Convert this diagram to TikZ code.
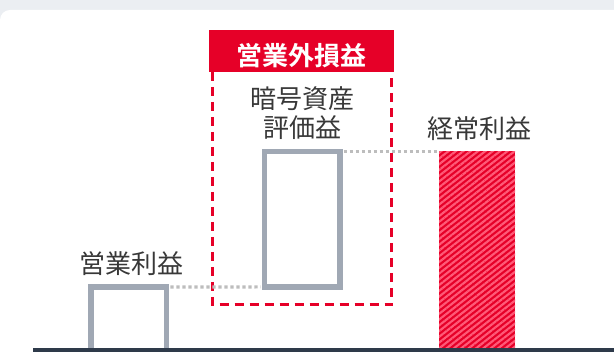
\documentclass[tikz,border=0pt]{standalone}
\usepackage{fontspec}
\newfontfamily\cjk{Noto Sans CJK JP}[BoldFont={Noto Sans CJK JP Bold}]
\usepackage{tikz}
\usetikzlibrary{patterns.meta}

\definecolor{bggray}{HTML}{EBEEF2}
\definecolor{lossred}{HTML}{E60028}
\definecolor{hatchpink}{HTML}{FF5A78}
\definecolor{bargray}{HTML}{A0A8B4}
\definecolor{dotgray}{HTML}{BDBDBD}
\definecolor{axisdark}{HTML}{2E3A4A}
\definecolor{labelgray}{HTML}{383838}

\tikzset{
  lbl/.style={inner sep=0pt, text=labelgray, align=center,
    font=\cjk\fontsize{19.5}{21.75}\selectfont},
  hdrlbl/.style={lbl, text=white, font=\cjk\bfseries\fontsize{19.5}{21.75}\selectfont},
  barbox/.style={draw=bargray, line width=4.1pt, inner sep=0pt, outer sep=0pt,
    anchor=north west, minimum width=56.6pt},
  guide/.style={draw=dotgray, line width=2.3pt, dash pattern=on 2.3pt off 2.2pt},
  lossframe/.style={draw=lossred, line width=2.25pt, dash pattern=on 6.75pt off 4.5pt},
}

\begin{document}
\begin{tikzpicture}[x=0.75pt,y=0.75pt,yscale=-1,xscale=1]
\useasboundingbox (0,0) rectangle (614,352);

% Background
\fill[bggray] (0,0) rectangle (614,352);
\fill[white, rounded corners=7.5pt] (0,10) rectangle (660,400);

% Header
\node[fill=lossred, inner sep=0pt, outer sep=0pt, anchor=north west,
  minimum width=139pt, minimum height=31.1pt] (hdr) at (208.7,30.5) {};
\node[hdrlbl] (hdrtext) at ([yshift=3.3pt]hdr.center) {営業外損益};
% Dashed frame
\draw[lossframe] (212.5,72) |- (391.5,305) -- (391.5,72);

% Bars
\node[barbox, minimum height=48pt] (opbox) at (91,287) {};
\node[barbox, minimum height=101.6pt] (valbox) at (264.5,151.5) {};
\node[anchor=north west, inner sep=0pt, outer sep=0pt, minimum width=57pt,
  minimum height=147.4pt, preaction={fill=lossred},
  pattern={Lines[angle=38, distance=3.4pt, line width=1.6pt]},
  pattern color=hatchpink] (ordinary) at (439,151.5) {};

% Axis
\fill[axisdark] (33,348) rectangle (614,352);

% Text Node
\node[lbl] (oplabel) at (131.5,264) {営業利益};
% Text Node
\node[lbl] (vallabel) at (302,113.5) {暗号資産\\評価益};
% Text Node
\node[lbl] (ordlabel) at (479,128.5) {経常利益};

% Connection
\draw[guide] ([xshift=3pt]opbox.north east) -- ([xshift=-3pt]valbox.south west);
% Connection
\draw[guide] ([xshift=3pt]valbox.north east) -- ([xshift=-1.5pt]ordinary.north west);

\end{tikzpicture}
\end{document}
